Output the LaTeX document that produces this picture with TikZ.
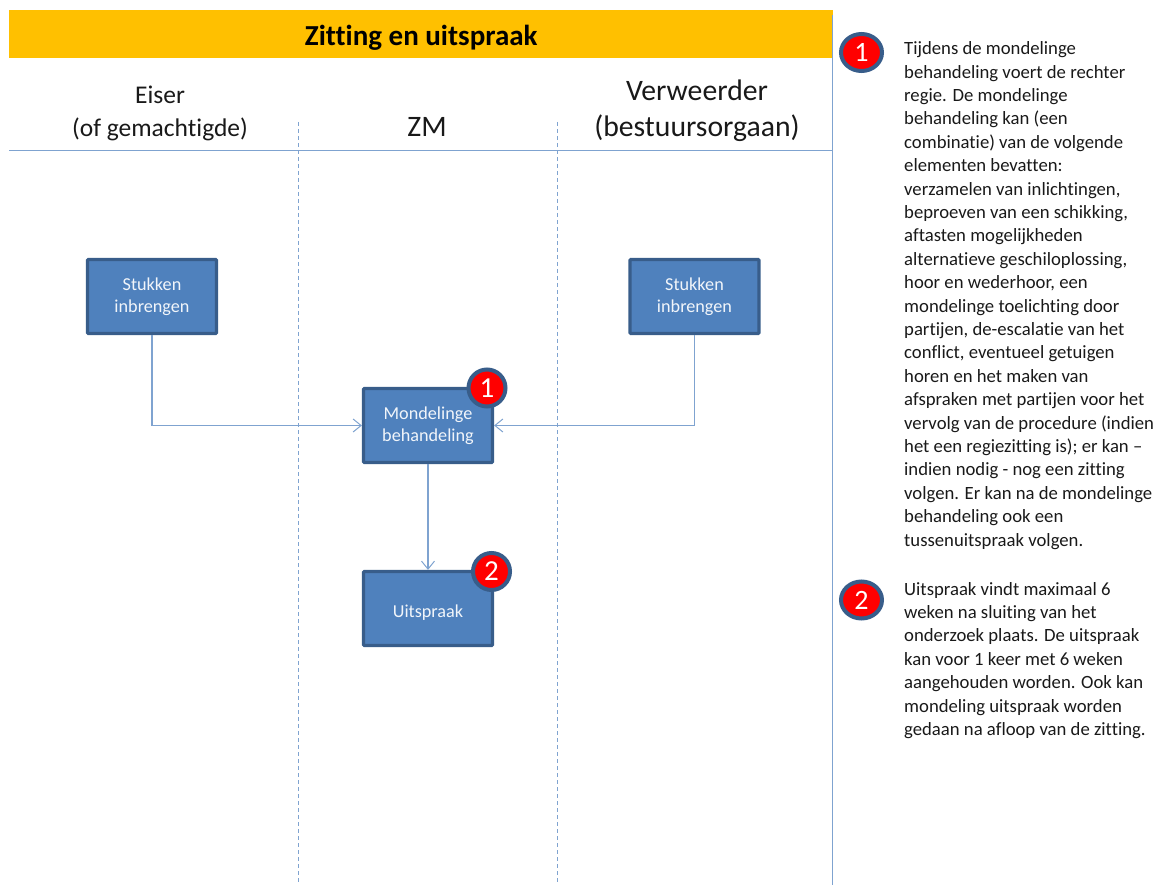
\documentclass[tikz,border=0pt]{standalone}
\usepackage{fontspec}
\setmainfont{Carlito}[Ligatures=NoCommon]
\usetikzlibrary{arrows.meta,shapes.geometric}
\definecolor{bandc}{HTML}{FFC000}
\definecolor{linec}{HTML}{4F81BD}
\definecolor{softc}{HTML}{7FA3D0}
\definecolor{edgec}{HTML}{385D8A}
\tikzset{
  x=1pt,y=-1pt,
  stepbox/.style={draw=edgec,line width=3.2pt,rounded corners=1pt,fill=linec,text=white!92!linec,minimum width=129pt,minimum height=74pt,inner sep=0pt,align=center,font=\fontsize{18.2}{21.5}\selectfont,execute at begin node={\rule{0pt}{20pt}}},
  badge/.style={circle,draw=edgec,line width=4pt,fill=red,text=white,minimum size=37pt,inner sep=0pt,font=\fontsize{29}{29}\selectfont},
  sidebadge/.style={ellipse,draw=edgec,line width=4pt,fill=red,text=white,minimum width=41pt,minimum height=37pt,inner sep=0pt,font=\fontsize{28}{28}\selectfont},
  flow/.style={draw=softc,line width=1.1pt,-{Straight Barb[length=8pt,width=13pt,line width=1pt]}},
  rule/.style={draw=softc,line width=1.1pt},
  lane/.style={draw=softc,line width=1.1pt,dash pattern=on 4pt off 3pt},
  side/.style={anchor=north west,align=left,inner sep=0pt,text=black!90,font=\fontsize{18.7}{23.4}\selectfont},
  headA/.style={font=\fontsize{25.5}{33}\selectfont,align=center,text=black!90},
  headB/.style={font=\fontsize{29.7}{36}\selectfont,align=center,text=black!90},
}
\begin{document}
\begin{tikzpicture}
\useasboundingbox (0,0) rectangle (1173,885);
\node[fill=bandc,minimum width=824pt,minimum height=48pt,inner sep=0pt,anchor=north west,font=\fontsize{29}{30}\selectfont\bfseries,execute at begin node={\rule{0pt}{27pt}}] (title) at (9,10) {Zitting en uitspraak};
\coordinate (rT) at (832.5,15); \coordinate (rB) at (832.5,885);
\draw[rule] (rT) -- (rB);
\coordinate (hL) at (9,150.5); \coordinate (hR) at (832,150.5);
\draw[rule] (hL) -- (hR);
\coordinate (d1T) at (298.5,122); \coordinate (d1B) at (298.5,885);
\coordinate (d2T) at (557.5,122); \coordinate (d2B) at (557.5,885);
\draw[lane] (d1T) -- (d1B);
\draw[lane] (d2T) -- (d2B);
\node[headA] (h1) at (160,113) {Eiser\\(of gemachtigde)};
\node[headB] (h2) at (427,127) {ZM};
\node[headB] (h3) at (697,111) {Verweerder\\(bestuursorgaan)};
\node[stepbox] (s1) at (152,296.5) {Stukken\\inbrengen};
\node[stepbox] (s2) at (694.5,296.5) {Stukken\\inbrengen};
\node[stepbox] (m) at (428,425.5) {Mondelinge\\behandeling};
\node[stepbox] (u) at (428,608.5) {Uitspraak};
\draw[flow] (s1.south) |- (m.west);
\draw[flow] (s2.south) |- (m.east);
\draw[flow] (m.south) -- (u.north);
\node[badge] (b1) at (487,388) {1};
\node[badge] (b2) at (491.5,571.5) {2};
\node[sidebadge] (c1) at (861.5,52.5) {1};
\node[sidebadge] (c2) at (861.5,600) {2};
\node[side] (t1) at (904,41.5) {Tijdens de mondelinge\\behandeling voert de rechter\\regie. De mondelinge\\behandeling kan (een\\combinatie) van de volgende\\elementen bevatten:\\verzamelen van inlichtingen,\\beproeven van een schikking,\\aftasten mogelijkheden\\alternatieve geschiloplossing,\\hoor en wederhoor, een\\mondelinge toelichting door\\partijen, de-escalatie van het\\conflict, eventueel getuigen\\horen en het maken van\\afspraken met partijen voor het\\vervolg van de procedure (indien\\het een regiezitting is); er kan –\\indien nodig - nog een zitting\\volgen. Er kan na de mondelinge\\behandeling ook een\\tussenuitspraak volgen.};
\node[side] (t2) at (904,582) {Uitspraak vindt maximaal 6\\weken na sluiting van het\\onderzoek plaats. De uitspraak\\kan voor 1 keer met 6 weken\\aangehouden worden. Ook kan\\mondeling uitspraak worden\\gedaan na afloop van de zitting.};
\end{tikzpicture}
\end{document}
